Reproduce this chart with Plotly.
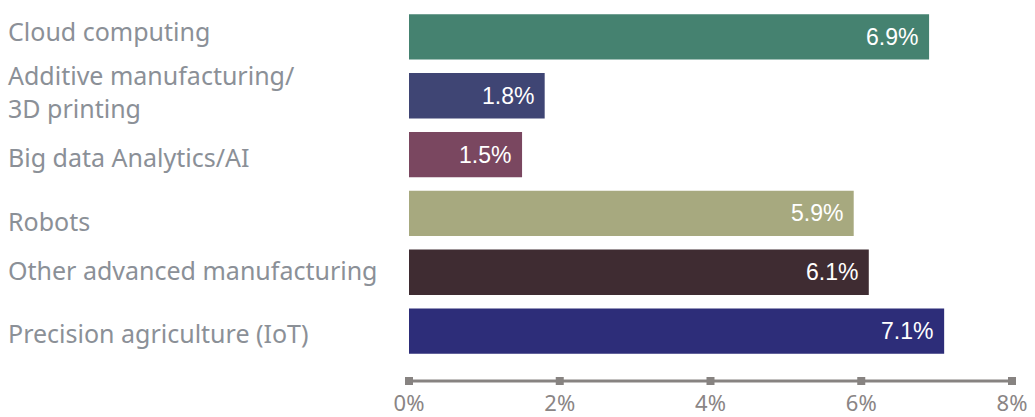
import plotly.graph_objects as go

categories = [
    "Cloud computing",
    "Additive manufacturing/<br>3D printing",
    "Big data Analytics/AI",
    "Robots",
    "Other advanced manufacturing",
    "Precision agriculture (IoT)",
]
values = [6.9, 1.8, 1.5, 5.9, 6.1, 7.1]
value_labels = ["6.9%", "1.8%", "1.5%", "5.9%", "6.1%", "7.1%"]
colors = ["#458270", "#3f4574", "#7a4760", "#a7a97f", "#3f2c32", "#2d2d79"]
tick_vals = [0, 2, 4, 6, 8]
tick_text = ["0%", "2%", "4%", "6%", "8%"]

# small vertical nudges of the category labels (px), as in the original layout
label_dy = [6, 4, -2, -8, 2, -2]

W, H = 1035, 417
FONT = "Noto Sans"
VFONT = "Liberation Sans"

fig = go.Figure()
fig.add_trace(go.Bar(
    x=values, y=categories, orientation="h",
    marker=dict(color=colors, line=dict(width=0)),
    width=0.77, hoverinfo="skip", showlegend=False,
))
fig.add_trace(go.Scatter(
    x=tick_vals, y=[0] * len(tick_vals), xaxis="x", yaxis="y2",
    mode="lines+markers",
    line=dict(color="#878381", width=3),
    marker=dict(symbol="square", size=8, color="#878381"),
    hoverinfo="skip", showlegend=False, cliponaxis=False,
))

annotations = []
for cat, v, lab in zip(categories, values, value_labels):
    annotations.append(dict(
        x=v, y=cat, xref="x", yref="y", text=lab, showarrow=False,
        xanchor="right", xshift=-9,
        font=dict(family=VFONT, size=23, color="white"),
    ))
for cat, dy in zip(categories, label_dy):
    annotations.append(dict(
        x=6 / W, y=cat, xref="paper", yref="y", text=cat, showarrow=False,
        xanchor="left", align="left", yshift=dy,
        font=dict(family=FONT, size=25, color="#8b9097"),
    ))

fig.update_layout(
    width=W, height=H,
    margin=dict(l=0, r=0, t=0, b=0, autoexpand=False),
    paper_bgcolor="white", plot_bgcolor="rgba(0,0,0,0)",
    xaxis=dict(
        domain=[409 / W, 1012 / W], range=[0, 8],
        tickvals=tick_vals, ticktext=tick_text,
        showgrid=False, zeroline=False, showline=False,
        anchor="free", position=(H - 381) / H,
        ticks="outside", ticklen=3, tickcolor="rgba(0,0,0,0)",
        automargin=False, ticklabeloverflow="allow",
        tickfont=dict(family=FONT, size=22, color="#8a8585"),
        fixedrange=True,
    ),
    yaxis=dict(
        domain=[(H - 360.5) / H, (H - 7.5) / H],
        range=[5.5, -0.5], type="category",
        categoryorder="array", categoryarray=categories,
        showticklabels=False, showgrid=False, zeroline=False, showline=False,
        automargin=False, fixedrange=True,
    ),
    yaxis2=dict(
        domain=[(H - 381) / H - 0.05, (H - 381) / H + 0.05],
        range=[-1, 1], visible=False, anchor="x", fixedrange=True,
    ),
    annotations=annotations,
    bargap=0.23,
)

fig.write_html(
    "out.html",
    config={"displayModeBar": False},
    post_script="document.body.style.margin='0';document.body.style.overflow='hidden';",
)
